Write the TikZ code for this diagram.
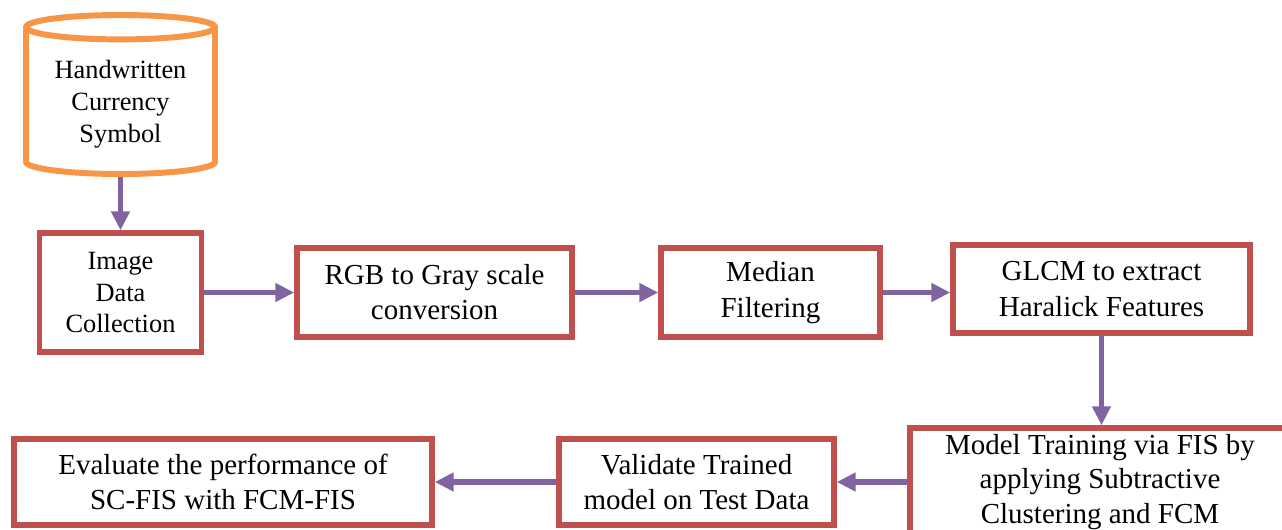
\documentclass[tikz,border=0pt]{standalone}
\usepackage{fontspec}
\setmainfont{Liberation Serif}
\usetikzlibrary{shapes.geometric, arrows.meta}
\definecolor{dbOrange}{HTML}{F79646}
\definecolor{boxRed}{HTML}{C0504D}
\definecolor{linkPurple}{HTML}{8064A2}

\begin{document}
\begin{tikzpicture}[>={Triangle[length=0.38cm, width=0.36cm]},
        database/.style={cylinder, shape border rotate=90, aspect=0.17, draw=dbOrange, line width=3.4pt, minimum width=3.78cm, minimum height=3.18cm, align=center, font=\fontsize{15}{18}\selectfont},
        stage/.style={rectangle, draw=boxRed, line width=3.1pt, align=center, inner sep=0pt, font=\fontsize{16.5}{20}\selectfont},
        link/.style={->, draw=linkPurple, line width=3.3pt}
    ]
        \useasboundingbox (0, 0) rectangle (25.64, 10.58);
        \clip (0, 0) rectangle (25.64, 10.58);

        % Source data
        \node[database, anchor=shape center] (symbols) at (2.41, 8.69) {Handwritten\\Currency\\Symbol};

        % ---------------- Row 1 ----------------
        \node[stage, minimum width=3.24cm, minimum height=2.38cm, font=\fontsize{15}{18}\selectfont] (collect) at (2.41, 4.73) {Image\\Data\\Collection};
        \node[stage, minimum width=5.5cm, minimum height=1.78cm] (rgb_gray) at (8.69, 4.73) {RGB to Gray scale\\conversion};
        \node[stage, minimum width=4.38cm, minimum height=1.78cm] (median) at (15.41, 4.73) {Median\\Filtering};
        \node[stage, minimum width=5.94cm, minimum height=1.76cm] (glcm) at (22.03, 4.80) {GLCM to extract\\Haralick Features};

        % ---------------- Row 2 ----------------
        % Training box runs off the right edge
        \node[stage, minimum width=7.6cm, minimum height=2.16cm, font=\fontsize{16.5}{19.4}\selectfont] (training) at (22.0, 0.94) {Model Training via FIS by\\applying Subtractive\\Clustering and FCM};
        \node[stage, minimum width=5.5cm, minimum height=1.72cm] (validate) at (13.93, 0.94) {Validate Trained\\model on Test Data};
        \node[stage, minimum width=8.36cm, minimum height=1.72cm] (evaluate) at (4.46, 0.94) {Evaluate the performance of\\SC-FIS with FCM-FIS};

        % ================= ARROWS =================
        \draw[link] (symbols.south) -- (collect.north);
        \draw[link] (collect) -- (rgb_gray);
        \draw[link] (rgb_gray) -- (median);
        \draw[link] (median.east) -- (median.east -| glcm.west);

        % Down to the second row, then back to the left
        \draw[link] (glcm.south) -- (glcm.south |- training.north);
        \draw[link] (training.west |- validate.east) -- (validate.east);
        \draw[link] (validate) -- (evaluate);

\end{tikzpicture}
\end{document}
